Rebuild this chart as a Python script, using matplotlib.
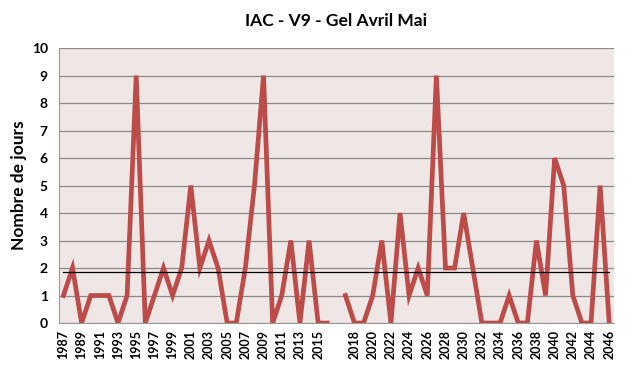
import matplotlib

matplotlib.use("Agg")
import matplotlib.pyplot as plt
import numpy as np

# Années (catégories) ; une catégorie vide entre 2016 et 2017
years = ([str(y) for y in range(1987, 2017)] + [""]
         + [str(y) for y in range(2017, 2047)])

# Nombre de jours de gel avril-mai
days_hist = [1, 2, 0, 1, 1, 1, 0, 1, 9, 0, 1, 2, 1, 2, 5,
             2, 3, 2, 0, 0, 2, 5, 9, 0, 1, 3, 0, 3, 0, 0]
days_futur = [1, 0, 0, 1, 3, 0, 4, 1, 2, 1, 9, 2, 2, 4, 2,
              0, 0, 0, 1, 0, 0, 3, 1, 6, 5, 1, 0, 0, 5, 0]
days = days_hist + [np.nan] + days_futur

mean_days = np.nanmean(days)

plt.rcParams["font.family"] = ["Lato", "DejaVu Sans"]

fig = plt.figure(figsize=(6.4, 3.88), dpi=100)
ax = fig.add_axes([0.092, 0.1675, 0.867, 0.7085])
ax.set_facecolor("#efe7e6")

x = np.arange(len(years))
ax.plot(x, days, color="#bd4b48", linewidth=3.4, solid_joinstyle="miter", zorder=3)
ax.plot([x[0], x[-1]], [mean_days, mean_days], color="black", linewidth=0.9, zorder=4)

ax.set_xlim(-0.5, len(years) - 0.5)
ax.set_ylim(0, 10)
ax.set_yticks(range(0, 11))
ax.set_yticklabels([str(v) for v in range(0, 11)], fontsize=10, fontweight="bold")
ax.set_xticks(x[::2])
ax.set_xticklabels(years[::2], rotation=90, fontsize=9, fontweight="bold")
ax.tick_params(axis="both", length=0, pad=8)
ax.tick_params(axis="x", pad=5)

ax.grid(axis="y", color="#8a8a8a", linewidth=0.9, zorder=1)
ax.set_axisbelow(True)
for side in ["top", "right"]:
    ax.spines[side].set_visible(False)
ax.spines["left"].set_color("#9a9a9a")
ax.spines["bottom"].set_color("#9a9a9a")

ax.set_ylabel("Nombre de jours", fontsize=12.5, fontweight="bold", labelpad=3)
ax.set_title("IAC - V9 - Gel Avril Mai", fontsize=12.5, fontweight="bold", pad=16)

fig.savefig("out.png", dpi=100)
